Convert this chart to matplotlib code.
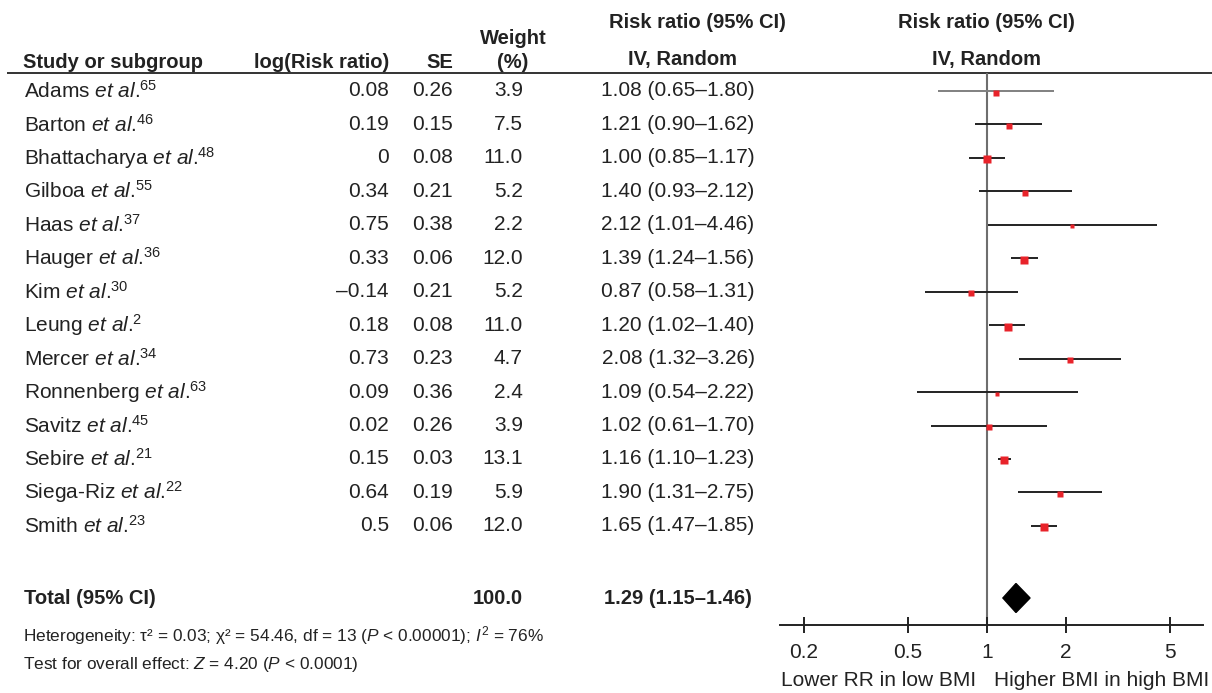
import matplotlib
matplotlib.use("Agg")
import matplotlib.pyplot as plt
from matplotlib import font_manager as fm
from matplotlib.ticker import FixedLocator, NullLocator, FixedFormatter

plt.rcParams['font.family'] = ['Liberation Sans', 'DejaVu Sans']
plt.rcParams['mathtext.fontset'] = 'custom'
plt.rcParams['mathtext.rm'] = 'Liberation Sans'
plt.rcParams['mathtext.it'] = 'Liberation Sans:italic'
plt.rcParams['mathtext.bf'] = 'Liberation Sans:bold'

# narrow face for the footnotes, if present
installed = {f.name for f in fm.fontManager.ttflist}
has_narrow = 'Liberation Sans Narrow' in installed
note_family = ['Liberation Sans Narrow'] if has_narrow else ['Liberation Sans', 'DejaVu Sans']

# ---- study data ----
authors = ["Adams", "Barton", "Bhattacharya", "Gilboa", "Haas", "Hauger", "Kim",
           "Leung", "Mercer", "Ronnenberg", "Savitz", "Sebire", "Siega-Riz", "Smith"]
refs = ["65", "46", "48", "55", "37", "36", "30", "2", "34", "63", "45", "21", "22", "23"]
log_rr = [0.08, 0.19, 0, 0.34, 0.75, 0.33, -0.14, 0.18, 0.73, 0.09, 0.02, 0.15, 0.64, 0.5]
se = [0.26, 0.15, 0.08, 0.21, 0.38, 0.06, 0.21, 0.08, 0.23, 0.36, 0.26, 0.03, 0.19, 0.06]
weight = [3.9, 7.5, 11.0, 5.2, 2.2, 12.0, 5.2, 11.0, 4.7, 2.4, 3.9, 13.1, 5.9, 12.0]
rr = [1.08, 1.21, 1.00, 1.40, 2.12, 1.39, 0.87, 1.20, 2.08, 1.09, 1.02, 1.16, 1.90, 1.65]
ci_lo = [0.65, 0.90, 0.85, 0.93, 1.01, 1.24, 0.58, 1.02, 1.32, 0.54, 0.61, 1.10, 1.31, 1.47]
ci_hi = [1.80, 1.62, 1.17, 2.12, 4.46, 1.56, 1.31, 1.40, 3.26, 2.22, 1.70, 1.23, 2.75, 1.85]

total_weight = 100.0
total_rr, total_lo, total_hi = 1.29, 1.15, 1.46

ticks = [0.2, 0.5, 1, 2, 5]
tick_labels = ["0.2", "0.5", "1", "2", "5"]

# ---- layout (figure pixels) ----
W, H = 1212, 693
FS = 15
HFS = 14.5
row_y = [91 + 33.45 * i for i in range(len(authors))]
total_y = 598
red = "#e8232a"
dark = "#222222"

fig = plt.figure(figsize=(W / 100, H / 100), dpi=100)
renderer = fig.canvas.get_renderer()
tab = fig.add_axes([0, 0, 1, 1])
tab.set_xlim(0, W)
tab.set_ylim(H, 0)
tab.axis("off")


def fit_width(t, target_px):
    """Rescale a text so it spans target_px pixels."""
    w = t.get_window_extent(renderer).width
    t.set_fontsize(t.get_fontsize() * target_px / w)


# header
hdr = dict(fontsize=HFS, fontweight="bold", va="center", color=dark)
tab.text(23, 63, "Study or subgroup", ha="left", **hdr)
tab.text(389, 63, "log(Risk ratio)", ha="right", **hdr)
tab.text(453, 63, "SE", ha="right", **hdr)
tab.text(513, 39, "Weight", ha="center", **hdr)
tab.text(513, 63, "(%)", ha="center", **hdr)
tab.text(697, 22, "Risk ratio (95% CI)", ha="center", **hdr)
tab.text(683, 60, "IV, Random", ha="center", **hdr)
tab.text(986, 22, "Risk ratio (95% CI)", ha="center", **hdr)
tab.text(986, 60, "IV, Random", ha="center", **hdr)
tab.plot([7, W], [73, 73], color="#333333", lw=1.4, solid_capstyle="butt")

# study rows
body = dict(fontsize=FS, va="center", color=dark)
for i, y in enumerate(row_y):
    tab.text(24, y, authors[i] + r" $\mathit{et\ al.}^{\!\!\mathrm{" + refs[i] + "}}$",
             ha="left", **body)
    tab.text(389, y, f"{log_rr[i]:g}".replace("-", "\u2013"), ha="right", **body)
    tab.text(453, y, f"{se[i]:.2f}", ha="right", **body)
    tab.text(523, y, f"{weight[i]:.1f}", ha="right", **body)
    tab.text(678, y, f"{rr[i]:.2f} ({ci_lo[i]:.2f}\u2013{ci_hi[i]:.2f})", ha="center", **body)

# total row and footnotes
bold = dict(body, fontsize=HFS, fontweight="bold")
tab.text(24, total_y, "Total (95% CI)", ha="left", **bold)
tab.text(523, total_y, f"{total_weight:.1f}", ha="right", **bold)
tab.text(678, total_y, f"{total_rr:.2f} ({total_lo:.2f}\u2013{total_hi:.2f})", ha="center", **bold)

note = dict(fontsize=FS, va="center", color=dark, family=note_family)
het = tab.text(23, 636, r"Heterogeneity: τ² = 0.03; χ² = 54.46, df = 13 ($\mathit{P}$ < 0.00001); "
               r"$\mathit{I}^{2}$ = 76%", ha="left", **note)
fit_width(het, 465 if has_narrow else 520)
eff = tab.text(23, 664, r"Test for overall effect: $\mathit{Z}$ = 4.20 ($\mathit{P}$ < 0.0001)",
               ha="left", **note)
eff.set_fontsize(het.get_fontsize())

tab.text(879, 681, "Lower RR in low BMI", ha="center", **body)
tab.text(1102, 681, "Higher BMI in high BMI", ha="center", **body)

# ---- forest panel (log scale) ----
px_per_decade = 262.0
x0, x1, xone = 780, 1203, 987
y_top, y_axis = 73, 625
ax = fig.add_axes([x0 / W, 1 - y_axis / H, (x1 - x0) / W, (y_axis - y_top) / H])
ax.patch.set_alpha(0)
ax.set_xscale("log")
ax.set_xlim(10 ** ((x0 - xone) / px_per_decade), 10 ** ((x1 - xone) / px_per_decade))
ax.set_ylim(y_axis, y_top)
for s in ["top", "left", "right"]:
    ax.spines[s].set_visible(False)
ax.spines["bottom"].set_linewidth(1.4)
ax.spines["bottom"].set_color(dark)
ax.xaxis.set_major_locator(FixedLocator(ticks))
ax.xaxis.set_major_formatter(FixedFormatter(tick_labels))
ax.xaxis.set_minor_locator(NullLocator())
ax.tick_params(axis="x", direction="inout", length=12, width=1.4, color=dark,
               labelsize=FS, labelcolor=dark, pad=7)
ax.set_yticks([])

ax.axvline(1, color="#6e6e6e", lw=1.5, zorder=1)

for i, y in enumerate(row_y):
    lc = "#808080" if i == 0 else dark
    ax.plot([ci_lo[i], ci_hi[i]], [y, y], color=lc, lw=1.4, zorder=2,
            solid_capstyle="butt")
    side_px = 1.8 + 1.87 * weight[i] ** 0.5
    ax.plot(rr[i], y + 1.5, marker="s", ms=side_px * 0.72, mfc=red, mec="none", zorder=3)

dh = 14.5
ax.fill([total_lo, total_rr, total_hi, total_rr],
        [total_y, total_y - dh, total_y, total_y + dh], color="black", zorder=3)

fig.savefig("out.png", dpi=100)
